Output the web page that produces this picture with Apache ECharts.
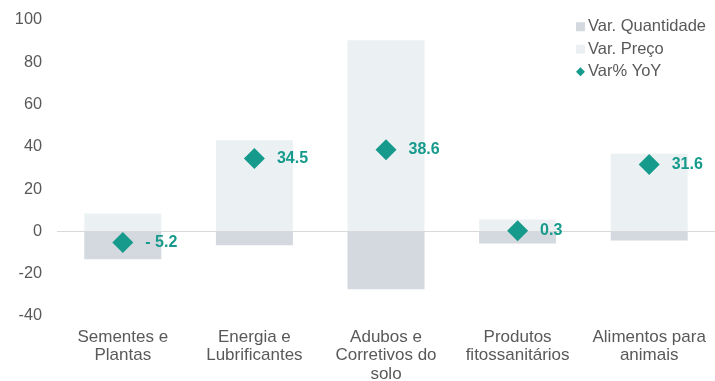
<!DOCTYPE html>
<html>
<head>
<meta charset="utf-8">
<script src="https://cdn.jsdelivr.net/npm/echarts@6/dist/echarts.min.js"></script>
<style>
  html, body { margin: 0; padding: 0; background: #ffffff; }
  #chart { width: 715px; height: 381px; }
</style>
</head>
<body>
<div id="chart"></div>
<script>
// Input categories and contributions to the year-on-year change
const categories = [
  'Sementes e\nPlantas',
  'Energia e\nLubrificantes',
  'Adubos e\nCorretivos do\nsolo',
  'Produtos\nfitossanitários',
  'Alimentos para\nanimais'
];
const varQuantidade = [-13.2, -6.5, -27.4, -5.7, -4.3];
const varPreco = [8.5, 43.1, 90.4, 5.7, 36.7];
const varYoY = [-5.2, 34.5, 38.6, 0.3, 31.6];
const yTicks = { min: -40, max: 100, step: 20 };

const FONT = 'Liberation Sans, Arial, sans-serif';
const TEXT_GREY = '#595959';
const TEAL = '#169a8c';

const chart = echarts.init(document.getElementById('chart'));
chart.setOption({
  animation: false,
  textStyle: { fontFamily: FONT },
  grid: { left: 57, right: 0, top: 20, bottom: 65, containLabel: false, outerBoundsMode: 'none' },
  legend: {
    orient: 'vertical',
    right: 4,
    top: 13,
    itemWidth: 9,
    itemHeight: 9,
    itemGap: 5,
    selectedMode: false,
    textStyle: { fontFamily: FONT, fontSize: 16.5, color: TEXT_GREY, lineHeight: 17.5, padding: [0, 0, 0, -2] },
    data: [
      { name: 'Var. Quantidade', icon: 'rect' },
      { name: 'Var. Preço', icon: 'rect' },
      { name: 'Var% YoY', icon: 'diamond' }
    ]
  },
  xAxis: {
    type: 'category',
    data: categories,
    axisLine: { show: false },
    axisTick: { show: false },
    axisLabel: {
      interval: 0,
      margin: 12,
      fontFamily: FONT,
      fontSize: 17,
      lineHeight: 18.5,
      color: TEXT_GREY
    }
  },
  yAxis: {
    type: 'value',
    min: yTicks.min,
    max: yTicks.max,
    interval: yTicks.step,
    axisLine: { show: false },
    axisTick: { show: false },
    splitLine: { show: false },
    axisLabel: { margin: 15, fontFamily: FONT, fontSize: 16.3, color: TEXT_GREY }
  },
  series: [
    {
      name: 'Var. Quantidade',
      type: 'bar',
      stack: 'var',
      barWidth: 77,
      data: varQuantidade,
      itemStyle: { color: '#d3d9df' },
      markLine: {
        silent: true,
        symbol: 'none',
        label: { show: false },
        lineStyle: { color: '#d9d9d9', width: 1, type: 'solid' },
        data: [{ yAxis: 0 }]
      }
    },
    {
      name: 'Var. Preço',
      type: 'bar',
      stack: 'var',
      barWidth: 77,
      data: varPreco,
      itemStyle: { color: '#ebf1f3' }
    },
    {
      name: 'Var% YoY',
      type: 'scatter',
      symbol: 'diamond',
      symbolSize: [21, 21],
      data: varYoY,
      itemStyle: { color: TEAL, opacity: 1 },
      z: 5,
      label: {
        show: true,
        position: 'right',
        distance: 12,
        fontFamily: FONT,
        fontSize: 16,
        fontWeight: 'bold',
        color: TEAL,
        formatter: p => (p.value < 0 ? '- ' + Math.abs(p.value).toFixed(1) : p.value.toFixed(1))
      }
    }
  ]
});
</script>
</body>
</html>
